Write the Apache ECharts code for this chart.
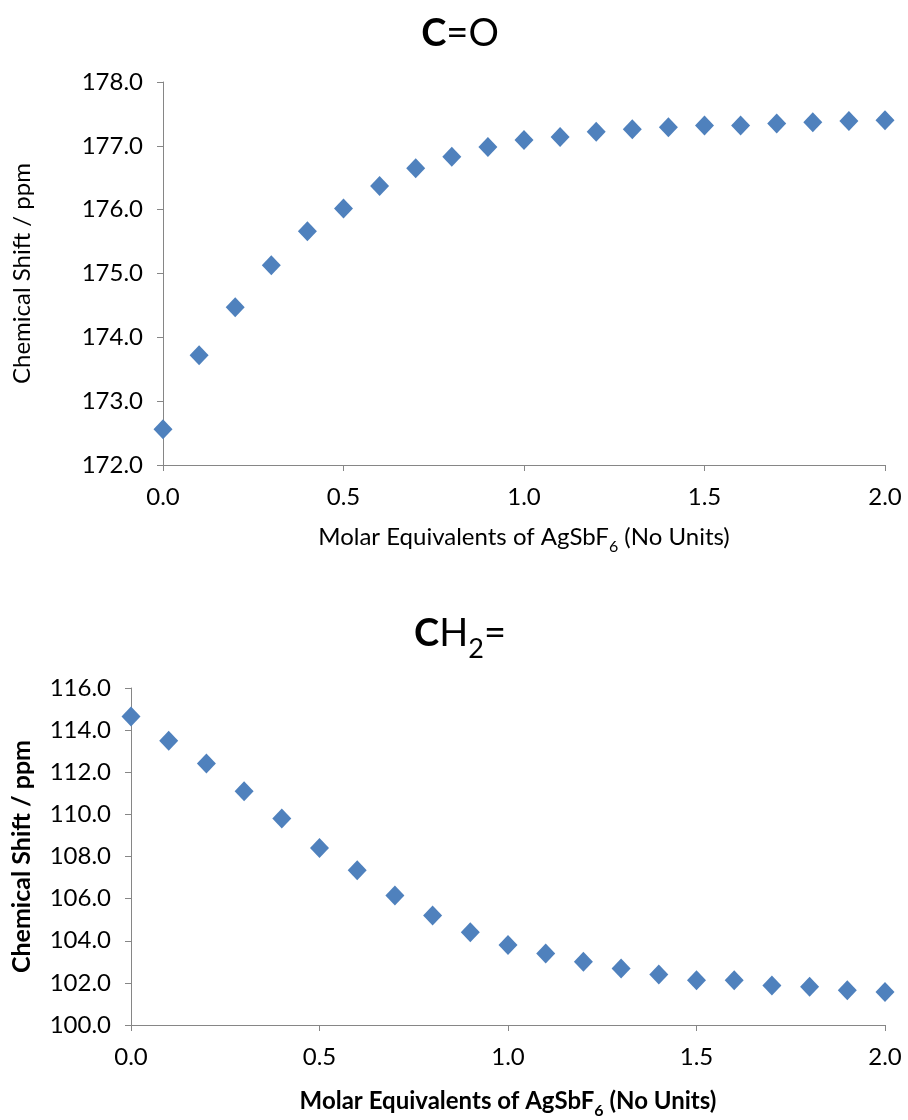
<!DOCTYPE html>
<html><head><meta charset="utf-8">
<script src="https://cdn.jsdelivr.net/npm/echarts@6/dist/echarts.min.js"></script>
<style>html,body{margin:0;padding:0;background:#fff}#c{width:908px;height:1120px}</style>
</head><body><div id="c"></div>
<script>
const equivalents = [0.0,0.1,0.2,0.3,0.4,0.5,0.6,0.7,0.8,0.9,1.0,1.1,1.2,1.3,1.4,1.5,1.6,1.7,1.8,1.9,2.0];
const shiftCO = [172.56,173.72,174.47,175.13,175.66,176.02,176.37,176.65,176.83,176.98,177.09,177.14,177.22,177.26,177.29,177.32,177.32,177.35,177.37,177.39,177.40];
const shiftCH2 = [114.65,113.5,112.42,111.1,109.8,108.4,107.35,106.15,105.2,104.4,103.8,103.4,103.0,102.68,102.4,102.12,102.13,101.88,101.82,101.65,101.57];

const FONT = 'Lato,"Open Sans",sans-serif';
const AX = '#868686';
const chart = echarts.init(document.getElementById('c'));
function pairs(ys){ return equivalents.map((x,i)=>[x,ys[i]]); }
function xAxis(gi, bold, gap){
  const w = bold?'bold':'normal';
  return {gridIndex:gi,type:'value',min:0,max:2,interval:0.5,
    axisLine:{show:true,lineStyle:{color:AX,width:1}},
    axisTick:{show:true,length:6,lineStyle:{color:AX}},
    splitLine:{show:false},
    axisLabel:{color:'#000',fontSize:24,fontFamily:FONT,margin:20,formatter:v=>v.toFixed(1)},
    name:'{m|Molar Equivalents of AgSbF}{s|6}{m| (No Units)}',
    nameLocation:'middle',nameGap:gap,
    nameTextStyle:{rich:{
      m:{fontSize:24,fontFamily:FONT,fontWeight:w,color:'#000',verticalAlign:'bottom'},
      s:{fontSize:16,fontFamily:FONT,fontWeight:w,color:'#000',verticalAlign:'bottom',padding:[0,0,-6,0]}}}
  };
}
function yAxis(gi, min, max, interval, bold, gap){
  return {gridIndex:gi,type:'value',min:min,max:max,interval:interval,
    axisLine:{show:true,lineStyle:{color:AX,width:1}},
    axisTick:{show:true,length:6,lineStyle:{color:AX}},
    splitLine:{show:false},
    axisLabel:{color:'#000',fontSize:24,fontFamily:FONT,margin:20,formatter:v=>v.toFixed(1)},
    name:'Chemical Shift / ppm',nameLocation:'middle',nameGap:gap,nameRotate:90,
    nameTextStyle:{fontSize:bold?25:24,fontFamily:FONT,fontWeight:bold?'bold':'normal',color:'#000'}
  };
}
chart.setOption({
  animation:false,
  title:[
    {text:'{b|C}{n|=O}',left:455,top:10,textAlign:'center',
     textStyle:{rich:{b:{fontSize:38,fontWeight:'bold',fontFamily:FONT,color:'#000'},
                      n:{fontSize:38,fontWeight:'normal',fontFamily:FONT,color:'#000'}}}},
    {text:'{b|C}{n|H}{s|2}{n|=}',left:455,top:610,textAlign:'center',
     textStyle:{rich:{b:{fontSize:38,fontWeight:'bold',fontFamily:FONT,color:'#000',verticalAlign:'bottom'},
                      n:{fontSize:38,fontWeight:'normal',fontFamily:FONT,color:'#000',verticalAlign:'bottom'},
                      s:{fontSize:27,fontWeight:'normal',fontFamily:FONT,color:'#000',verticalAlign:'bottom',padding:[0,0,-10,0]}}}}
  ],
  grid:[
    {left:163,right:23,top:82,height:383},
    {left:131,right:23,top:688,height:339}
  ],
  xAxis:[xAxis(0,false,60),xAxis(1,true,64)],
  yAxis:[yAxis(0,172,178,1,false,129),yAxis(1,100,116,2,true,97)],
  series:[
    {type:'scatter',xAxisIndex:0,yAxisIndex:0,data:pairs(shiftCO),symbol:'diamond',symbolSize:[19,20],itemStyle:{color:'#4F81BD',opacity:1}},
    {type:'scatter',xAxisIndex:1,yAxisIndex:1,data:pairs(shiftCH2),symbol:'diamond',symbolSize:[19,20],itemStyle:{color:'#4F81BD',opacity:1}}
  ]
});
</script></body></html>
